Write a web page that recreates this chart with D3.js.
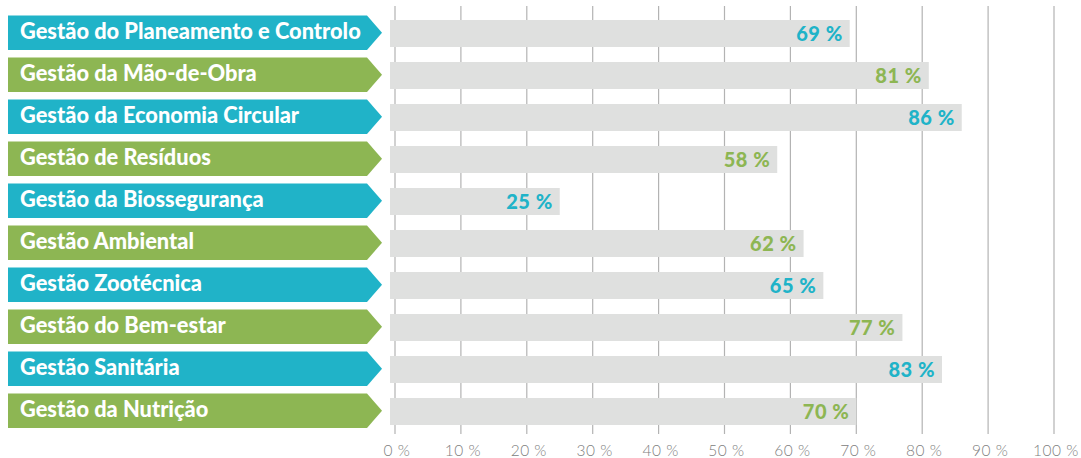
<!DOCTYPE html>
<html><head><meta charset="utf-8">
<script src="https://cdn.jsdelivr.net/npm/d3@7"></script>
<style>body{margin:0;background:#fff;}svg{display:block;}</style>
</head><body><svg id="c" width="1081" height="458"></svg>
<script>
const categories = ["Gestão do Planeamento e Controlo","Gestão da Mão-de-Obra","Gestão da Economia Circular","Gestão de Resíduos","Gestão da Biossegurança","Gestão Ambiental","Gestão Zootécnica","Gestão do Bem-estar","Gestão Sanitária","Gestão da Nutrição"];
const values = [69,81,86,58,25,62,65,77,83,70];
const rowColors = ["#20b3c8","#8db653","#20b3c8","#8db653","#20b3c8","#8db653","#20b3c8","#8db653","#20b3c8","#8db653"];
const ticks = [0,10,20,30,40,50,60,70,80,90,100];
const tickLabels = ticks.map(t => t + " %");

const svg = d3.select("#c");
const x = d3.scaleLinear().domain([0,100]).range([395,1054]);
const y = d3.scaleBand().domain(categories).range([12.5,432.5]).padding(0);
const cy = d => y(d) + y.bandwidth()/2;

// gridlines
svg.append("g").selectAll("line").data(ticks).join("line")
  .attr("x1", d=>x(d)).attr("x2", d=>x(d)).attr("y1",6).attr("y2",434)
  .attr("stroke","#b3b3b3").attr("stroke-width",1.2);

// tick labels
svg.append("g").selectAll("text").data(ticks).join("text")
  .attr("x", d=>x(d)+2).attr("y",456).attr("text-anchor","middle")
  .attr("font-family","Lato").attr("font-weight",300).attr("font-size",15.5)
  .attr("letter-spacing",0.5)
  .attr("fill","#808080").text((d,i)=>tickLabels[i]);

// bars
const bh = 27;
svg.append("g").selectAll("rect").data(categories).join("rect")
  .attr("x", x(0)-5).attr("y", d=>cy(d)-bh/2)
  .attr("width",(d,i)=>x(values[i])-x(0)+5).attr("height",bh)
  .attr("fill","#dfe0df");

// value labels
svg.append("g").selectAll("text").data(categories).join("text")
  .attr("x",(d,i)=>x(values[i])-7).attr("y",d=>cy(d)+7)
  .attr("text-anchor","end").attr("font-family","Lato").attr("font-weight",900)
  .attr("font-size",20).attr("letter-spacing",0.5).attr("fill",(d,i)=>rowColors[i])
  .text((d,i)=>values[i]+" %");

// arrows
const ah = 34.5, ax0 = 8, ax1 = 367, ax2 = 382;
svg.append("g").selectAll("path").data(categories).join("path")
  .attr("d", d => { const c = cy(d)-0.7, t = c-ah/2, b = c+ah/2;
    return `M${ax0},${t}L${ax1},${t}L${ax2},${c}L${ax1},${b}L${ax0},${b}Z`; })
  .attr("fill",(d,i)=>rowColors[i]);

const lbl = svg.append("g").selectAll("text").data(categories).join("text")
  .attr("x",20).attr("y",d=>cy(d)+5.5)
  .attr("font-family","Lato").attr("font-weight",900).attr("font-size",18)
  .attr("fill","#fff").text(d=>d);
// fit longest label width to reference (~341px)
const w = lbl.nodes()[0].getComputedTextLength();
const fs = 18*341/w;
lbl.attr("font-size",fs);
</script></body></html>
